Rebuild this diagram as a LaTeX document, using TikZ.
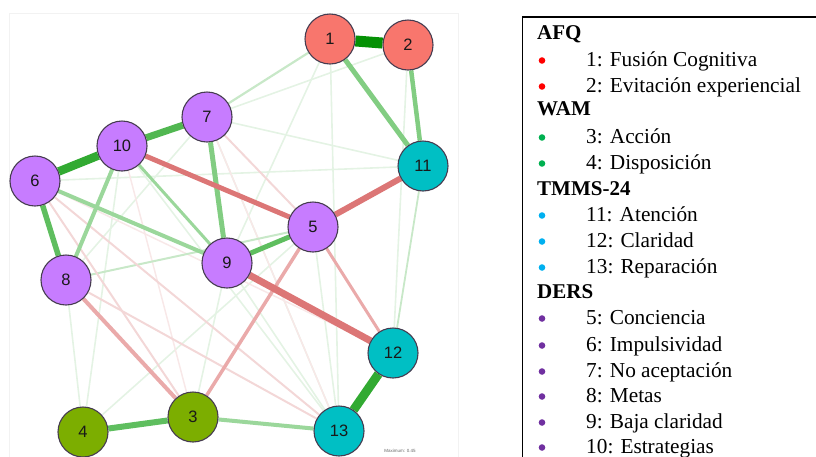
\documentclass[tikz,border=0pt]{standalone}
\usepackage{fontspec}
\setmainfont{Liberation Serif}
\newfontfamily\netfont{Liberation Sans}
\usetikzlibrary{backgrounds}
\definecolor{cRed}{RGB}{248,118,109}
\definecolor{cPur}{RGB}{199,124,255}
\definecolor{cTeal}{RGB}{0,191,196}
\definecolor{cGrn}{RGB}{124,174,0}
\definecolor{nborder}{RGB}{70,60,80}
\definecolor{gA}{RGB}{5,145,5}
\definecolor{gB}{RGB}{50,170,50}
\definecolor{gC}{RGB}{95,190,95}
\definecolor{gD}{RGB}{130,205,130}
\definecolor{gE}{RGB}{155,215,155}
\definecolor{gF}{RGB}{200,232,200}
\definecolor{gG}{RGB}{228,243,228}
\definecolor{rA}{RGB}{220,118,118}
\definecolor{rB}{RGB}{234,170,170}
\definecolor{rC}{RGB}{243,215,215}
\definecolor{rD}{RGB}{248,232,232}
\definecolor{bRed}{RGB}{255,0,0}
\definecolor{bGrn}{RGB}{0,176,80}
\definecolor{bBlu}{RGB}{0,176,240}
\definecolor{bPur}{RGB}{112,48,160}
\tikzset{
  vnode/.style={circle, draw=nborder, line width=1.1pt, minimum size=50pt, inner sep=0pt,
    font=\netfont\fontsize{16.5}{16.5}\selectfont, text=black!90},
  hdr/.style={anchor=base west, inner sep=0pt, font=\bfseries\fontsize{21}{21}\selectfont},
  item/.style={anchor=base west, inner sep=0pt, font=\fontsize{21.3}{21.3}\selectfont},
  edge/.style={line cap=butt}
}
\begin{document}
\begin{tikzpicture}[x=1pt,y=-1pt]
\useasboundingbox (0,0) rectangle (816,456);
\clip (0,0) rectangle (816,456);
\draw[black!5, line width=0.8pt] (9,13) rectangle (458,470);

% nodes
\node[vnode, fill=cRed] (n1) at (330,39) {1};
\node[vnode, fill=cRed] (n2) at (408,45) {2};
\node[vnode, fill=cGrn] (n3) at (193,417) {3};
\node[vnode, fill=cGrn] (n4) at (83,432) {4};
\node[vnode, fill=cPur] (n5) at (313,227) {5};
\node[vnode, fill=cPur] (n6) at (35,181) {6};
\node[vnode, fill=cPur] (n7) at (207,117) {7};
\node[vnode, fill=cPur] (n8) at (66,280) {8};
\node[vnode, fill=cPur] (n9) at (227,263) {9};
\node[vnode, fill=cPur] (n10) at (122,146) {10};
\node[vnode, fill=cTeal] (n11) at (423,166) {11};
\node[vnode, fill=cTeal] (n12) at (393,353) {12};
\node[vnode, fill=cTeal] (n13) at (339,431) {13};

\begin{pgfonlayer}{background}
% very faint green
\foreach \a/\b in {n2/n7, n1/n9, n1/n13, n2/n12, n7/n11, n6/n11, n8/n7, n4/n10, n4/n8, n4/n5, n3/n9, n13/n7, n13/n9, n13/n5, n10/n13}
  \draw[edge, gG, line width=1.6pt] (\a) -- (\b);
% very faint red
\foreach \a/\b in {n10/n3, n7/n13, n6/n12}
  \draw[edge, rD, line width=1.5pt] (\a) -- (\b);
% faint green
\draw[edge, gF, line width=2.2pt] (n1) -- (n7);
\draw[edge, gF, line width=2pt] (n8) -- (n5);
\draw[edge, gF, line width=1.8pt] (n11) -- (n12);
% faint red
\draw[edge, rC, line width=2pt] (n6) -- (n13);
\draw[edge, rC, line width=2pt] (n8) -- (n13);
\draw[edge, rC, line width=2pt] (n6) -- (n3);
\draw[edge, rC, line width=2pt] (n7) -- (n5);
% medium
\draw[edge, gE, line width=3pt] (n10) -- (n9);
\draw[edge, gE, line width=4pt] (n10) -- (n8);
\draw[edge, gE, line width=4pt] (n6) -- (n9);
\draw[edge, gE, line width=4pt] (n3) -- (n13);
\draw[edge, gD, line width=5pt] (n1) -- (n11);
\draw[edge, gD, line width=4.5pt] (n2) -- (n11);
\draw[edge, gD, line width=5pt] (n7) -- (n9);
\draw[edge, gC, line width=5.5pt] (n6) -- (n8);
\draw[edge, gC, line width=5pt] (n9) -- (n5);
\draw[edge, rB, line width=4pt] (n8) -- (n3);
\draw[edge, rB, line width=3.5pt] (n5) -- (n3);
\draw[edge, rB, line width=3pt] (n5) -- (n12);
% strong
\draw[edge, rA, line width=5pt] (n10) -- (n5);
\draw[edge, rA, line width=6pt] (n11) -- (n5);
\draw[edge, rA, line width=7pt] (n9) -- (n12);
\draw[edge, gC, line width=6pt] (n4) -- (n3);
\draw[edge, gB!85!white, line width=7pt] (n10) -- (n7);
\draw[edge, gB, line width=8.5pt] (n6) -- (n10);
\draw[edge, gB, line width=9pt] (n12) -- (n13);
\draw[edge, gA, line width=11pt] (n1) -- (n2);
\end{pgfonlayer}

\node[font=\netfont\fontsize{4.5}{5}\selectfont, text=black!60, inner sep=0pt] (maxlab) at (400,451) {Maximum: 0.45};

% legend
\draw[line width=1.8pt] (840,17) -- (522.5,17) -- (522.5,470);
\node[hdr] (hafq) at (537,39) {AFQ};
\node[item] (l1) at (586,66) {1: Fusión Cognitiva};
\node[item] (l2) at (586,92) {2: Evitación experiencial};
\node[hdr] (hwam) at (537,115) {WAM};
\node[item] (l3) at (586,143) {3: Acción};
\node[item] (l4) at (586,169) {4: Disposición};
\node[hdr] (htm) at (537,195) {TMMS-24};
\node[item] (l11) at (586,221) {11: Atención};
\node[item] (l12) at (586,247) {12: Claridad};
\node[item] (l13) at (586,273) {13: Reparación};
\node[hdr] (hders) at (537,298) {DERS};
\node[item] (l5) at (586,324) {5: Conciencia};
\node[item] (l6) at (586,351) {6: Impulsividad};
\node[item] (l7) at (586,377) {7: No aceptación};
\node[item] (l8) at (586,402) {8: Metas};
\node[item] (l9) at (586,428) {9: Baja claridad};
\node[item] (l10) at (586,453) {10: Estrategias};
\foreach \yy/\cc in {66/bRed, 92/bRed, 143/bGrn, 169/bGrn, 221/bBlu, 247/bBlu, 273/bBlu, 324/bPur, 351/bPur, 377/bPur, 402/bPur, 428/bPur, 453/bPur}
  \fill[\cc] (542,\yy-5.5) circle (3.3pt);
\end{tikzpicture}
\end{document}
